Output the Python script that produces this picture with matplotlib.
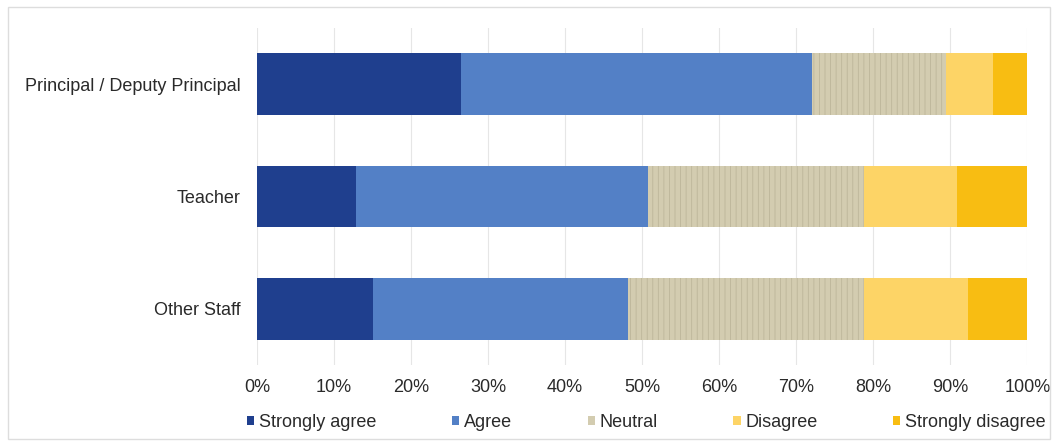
import matplotlib.pyplot as plt
from matplotlib.patches import Rectangle
from matplotlib.ticker import PercentFormatter

categories = ['Principal / Deputy Principal', 'Teacher', 'Other Staff']
responses = ['Strongly agree', 'Agree', 'Neutral', 'Disagree', 'Strongly disagree']
strongly_agree = [26.5, 12.9, 15.1]
agree = [45.6, 37.9, 33.0]
neutral = [17.4, 28.0, 30.7]
disagree = [6.1, 12.1, 13.5]
strongly_disagree = [4.4, 9.1, 7.7]

colors = ['#1f3f8e', '#5380c6', '#d3ccb0', '#fdd466', '#f8bd12']


def main():
    plt.rcParams['font.family'] = ['Liberation Sans', 'DejaVu Sans']
    plt.rcParams['hatch.linewidth'] = 0.6

    fig = plt.figure(figsize=(10.58, 4.43), dpi=100)
    ax = fig.add_axes([0.243, 0.176, 0.728, 0.761])

    series = [strongly_agree, agree, neutral, disagree, strongly_disagree]
    left = [0.0] * len(categories)
    ypos = list(range(len(categories)))
    for name, vals, col in zip(responses, series, colors):
        if name == 'Neutral':
            ax.barh(ypos, vals, left=left, height=0.55, color=col,
                    edgecolor='#bdb69a', linewidth=0, hatch='|||', label=name, zorder=3)
        else:
            ax.barh(ypos, vals, left=left, height=0.55, color=col,
                    linewidth=0, label=name, zorder=3)
        left = [l + v for l, v in zip(left, vals)]

    ax.set_xlim(0, 100)
    ax.set_ylim(2.5, -0.5)
    ax.set_xticks(range(0, 101, 10))
    ax.xaxis.set_major_formatter(PercentFormatter(decimals=0))
    ax.set_yticks(ypos)
    ax.set_yticklabels(categories)
    ax.tick_params(length=0, labelsize=13, colors='#2a2a2a')
    ax.tick_params(axis='x', pad=10)
    ax.tick_params(axis='y', pad=12)
    ax.grid(axis='x', color='#e6e6e6', linewidth=0.8, zorder=0)
    for s in ax.spines.values():
        s.set_visible(False)

    handles, labels = ax.get_legend_handles_labels()
    leg = fig.legend(handles, labels, loc='center left', bbox_to_anchor=(0.218, 0.047),
                     ncol=5, frameon=False, fontsize=13, handlelength=0.4,
                     handleheight=0.4, handletextpad=0.25, columnspacing=4.2,
                     labelcolor='#2a2a2a')
    for h in leg.legend_handles:
        h.set_hatch(None)

    fig.patches.append(Rectangle((0.008, 0.01), 0.984, 0.975, transform=fig.transFigure,
                                 fill=False, edgecolor='#dddddd', linewidth=1))

    fig.savefig('out.png', dpi=100)


if __name__ == "__main__":
    main()
